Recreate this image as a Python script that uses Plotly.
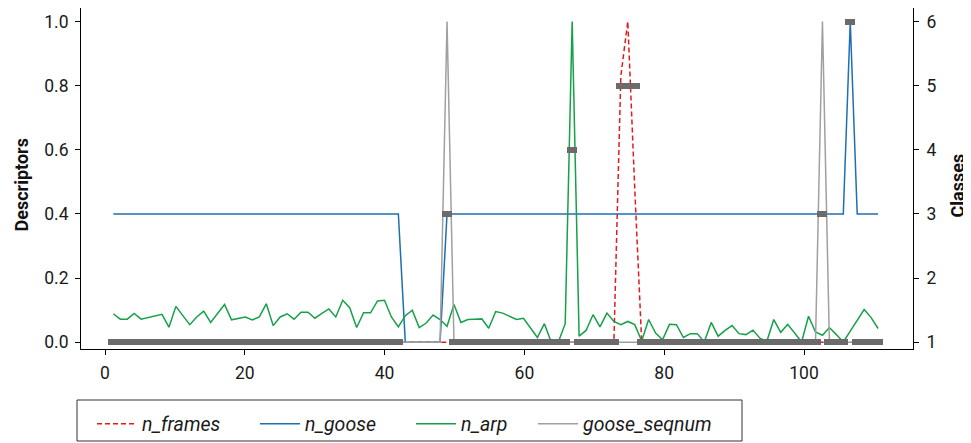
import plotly.graph_objects as go

# ---------------- data ----------------
# sample times (regular sampling grid)
T0, DT = 1.19, 0.9946
n_samples = 111
sample_time = [round(T0 + DT * k, 4) for k in range(n_samples)]

n_frames = [0.0] * 73 + [0.83, 1.0, 0.48] + [0.0] * 35

n_goose = [0.4] * 42 + [0.0] * 6 + [0.4] * 58 + [1.0] + [0.4] * 4

n_arp = [
    0.089, 0.072, 0.072, 0.090, 0.072, 0.077, 0.082, 0.087, 0.047, 0.112,
    0.083, 0.055, 0.079, 0.097, 0.062, 0.090, 0.118, 0.070, 0.075, 0.079,
    0.070, 0.079, 0.120, 0.052, 0.079, 0.089, 0.072, 0.094, 0.094, 0.075,
    0.090, 0.104, 0.079, 0.131, 0.108, 0.046, 0.092, 0.092, 0.129, 0.131,
    0.079, 0.048, 0.083, 0.100, 0.046, 0.060, 0.085, 0.071, 0.050, 0.118,
    0.062, 0.071, 0.072, 0.073, 0.044, 0.096, 0.091, 0.081, 0.071, 0.075,
    0.045, 0.015, 0.058, 0.000, 0.000, 0.058, 1.000, 0.019, 0.037, 0.086,
    0.048, 0.091, 0.065, 0.055, 0.065, 0.055, 0.004, 0.071, 0.029, 0.008,
    0.056, 0.055, 0.015, 0.027, 0.027, 0.001, 0.062, 0.019, 0.037, 0.052,
    0.027, 0.024, 0.038, 0.013, 0.003, 0.071, 0.031, 0.056, 0.029, 0.001,
    0.081, 0.032, 0.022, 0.046, 0.024, 0.001, 0.035, 0.068, 0.102, 0.077,
    0.043,
]

goose_seqnum = [0.0] * 48 + [1.0] + [0.0] * 53 + [1.0] + [0.0] * 8

classes = ([1] * 42 + [None] * 6 + [3] + [1] * 17 + [4] + [1] * 6 + [5] * 3
           + [1] * 26 + [3] + [1] * 3 + [6] + [1] * 4)

x_ticks = [0, 20, 40, 60, 80, 100]
y_ticks = [0.0, 0.2, 0.4, 0.6, 0.8, 1.0]
y_ticklabels = ["0.0", "0.2", "0.4", "0.6", "0.8", "1.0"]
class_ticks = [1, 2, 3, 4, 5, 6]

series_names = ["n_frames", "n_goose", "n_arp", "goose_seqnum"]
series_values = [n_frames, n_goose, n_arp, goose_seqnum]
series_colors = ["#e41a1c", "#1f6fb2", "#16a049", "#a0a0a0"]
series_dash = ["5px,3px", "solid", "solid", "solid"]

# ---------------- figure ----------------
FONT = "Roboto, 'Open Sans', sans-serif"
W, H = 971, 443
OFF = 8                                # page body margin of the browser
L, R, T, B = 81, 913, 8, 349           # plot area in picture pixels
pw, ph = R - L, B - T

def px_x(p):
    return (p - L) / pw

def px_y(p):
    return (B - p) / ph

# axis mapping: descriptor 0 -> 342.3 px, 1 -> 21.5 px
ppu = 342.3 - 21.5
y_lo = (342.3 - B) / ppu
y_hi = (342.3 - T) / ppu
x_ppu = 6.99
x_lo = (L - 105) / x_ppu
x_hi = (R - 105) / x_ppu
class_ppu = ppu / 5.0

fig = go.Figure()

legend_keys = ["legend", "legend2", "legend3", "legend4"]
for name, vals, col, dash, lk in zip(series_names, series_values, series_colors,
                                     series_dash, legend_keys):
    fig.add_trace(go.Scatter(
        x=sample_time, y=vals, mode="lines", name="<i>%s</i>" % name,
        line=dict(color=col, width=1.5, dash=dash),
        legend=lk, hoverinfo="skip",
    ))

# class markers: short thick horizontal dashes (10 px wide, 6 px tall)
mark_h = 6.0 / class_ppu
mark_w = 10.0 / x_ppu
cls_x = [t for t, c in zip(sample_time, classes) if c is not None]
cls_y = [c for c in classes if c is not None]
fig.add_trace(go.Bar(
    x=cls_x, y=[mark_h] * len(cls_y), base=[c - mark_h / 2 for c in cls_y],
    width=mark_w, yaxis="y2", showlegend=False,
    marker=dict(color="#6b6b6b", line=dict(width=0)), hoverinfo="skip",
))

axis_common = dict(showgrid=False, zeroline=False, showline=True,
                   linecolor="#000000", linewidth=1, ticks="outside",
                   ticklen=5, tickwidth=1, tickcolor="#000000",
                   tickfont=dict(family=FONT, size=17.5, color="#1a1a1a"))

fig.update_layout(
    width=W, height=H,
    margin=dict(l=L - OFF, r=W - (R - OFF), t=T - OFF, b=H - (B - OFF),
                pad=0, autoexpand=False),
    paper_bgcolor="white", plot_bgcolor="white",
    showlegend=True, barmode="overlay", bargap=0,
    xaxis=dict(range=[x_lo, x_hi], tickvals=x_ticks, ticklabelstandoff=3,
               **axis_common),
    yaxis=dict(range=[y_lo, y_hi], tickvals=y_ticks, ticktext=y_ticklabels,
               ticklabelstandoff=3, **axis_common),
    yaxis2=dict(range=[1 + 5 * y_lo, 1 + 5 * y_hi], tickvals=class_ticks,
                overlaying="y", side="right", ticklabelstandoff=4,
                **axis_common),
)

legend_text_px = [142, 305, 461, 583]
for lk, tx in zip(legend_keys, legend_text_px):
    fig.update_layout({lk: dict(
        x=px_x(tx - 50), y=px_y(424), xanchor="left", yanchor="middle",
        orientation="h", bgcolor="rgba(0,0,0,0)", borderwidth=0,
        itemwidth=40,
        font=dict(family=FONT, size=19.5, color="#1a1a1a"),
    )})

fig.add_shape(type="rect", xref="paper", yref="paper",
              x0=px_x(77), x1=px_x(742), y0=px_y(441), y1=px_y(400),
              line=dict(color="#333333", width=1), fillcolor="rgba(0,0,0,0)")

fig.add_annotation(text="<b>Descriptors</b>", xref="paper", yref="paper",
                   x=px_x(21), y=px_y(185.5), textangle=-90, showarrow=False,
                   xanchor="center", yanchor="middle",
                   font=dict(family=FONT, size=18, color="#111111"))
fig.add_annotation(text="<b>Classes</b>", xref="paper", yref="paper",
                   x=px_x(957), y=px_y(185.5), textangle=-90, showarrow=False,
                   xanchor="center", yanchor="middle",
                   font=dict(family=FONT, size=18, color="#111111"))

fig.write_html("out.html")
